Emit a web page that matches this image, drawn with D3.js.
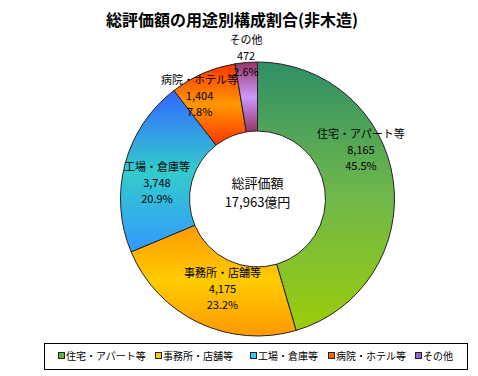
<!DOCTYPE html>
<html>
<head>
<meta charset="utf-8">
<script src="https://cdn.jsdelivr.net/npm/d3@7"></script>
<style>
  body { margin: 0; background: #fff; }
  text { font-family: "Noto Sans CJK JP", sans-serif; fill: #000; }
</style>
</head>
<body>
<script>
// data
const categories = ['住宅・アパート等', '事務所・店舗等', '工場・倉庫等', '病院・ホテル等', 'その他']
const values = [8165, 4175, 3748, 1404, 472]
const percents = ['45.5%', '23.2%', '20.9%', '7.8%', '2.6%']
const valueLabels = ['8,165', '4,175', '3,748', '1,404', '472']
const totalLabel = '17,963億円'

const title = '総評価額の用途別構成割合(非木造)'

// layout
const w = 478
const h = 376
const cx = 257.5
const cy = 199
const outerR = 137
const innerR = 68

// gradient stops per slice (top -> bottom)
const gradients = [
  ['#2f8f66', '#6fb84a', '#9ccc0a'],
  ['#ff9900', '#ffcc00', '#ff9900'],
  ['#3366ff', '#33cccc', '#3399ff'],
  ['#ff3300', '#ff9900', '#ff3300'],
  ['#993366', '#cc99ff', '#993366']
]
const legendColors = ['#5fb846', '#ffcc00', '#33ccff', '#ff6600', '#9966cc']

// manual nudges of the labels away from the ring centroid (excel placed them by hand)
const labelNudge = [[2, -34], [9, -2], [-1.5, 10.5], [-17, -9], [-3, -41]]

const svg = d3.select('body')
  .append('svg')
  .attr('width', w)
  .attr('height', h)

const defs = svg.append('defs')
gradients.forEach((g, i) => {
  const lg = defs.append('linearGradient')
    .attr('id', 'grad' + i)
    .attr('x1', 0).attr('y1', 0)
    .attr('x2', 0).attr('y2', 1)
  g.forEach((c, j) => {
    lg.append('stop')
      .attr('offset', j / (g.length - 1))
      .attr('stop-color', c)
  })
})

svg.append('text')
  .attr('x', 232)
  .attr('y', 26)
  .attr('text-anchor', 'middle')
  .style('font-size', '16px')
  .style('font-weight', 'bold')
  .text(title)

const pie = d3.pie().sort(null)
const arcs = pie(values)
const arc = d3.arc().innerRadius(innerR).outerRadius(outerR)

const g = svg.append('g').attr('transform', `translate(${cx},${cy})`)

g.selectAll('path.slice')
  .data(arcs)
  .enter()
  .append('path')
  .attr('class', 'slice')
  .attr('d', arc)
  .style('fill', (d, i) => `url(#grad${i})`)
  .style('stroke', '#222')
  .style('stroke-width', '1px')

// labels
g.selectAll('g.label')
  .data(arcs)
  .enter()
  .append('g')
  .attr('class', 'label')
  .attr('transform', (d, i) => {
    const c = arc.centroid(d)
    return `translate(${c[0] + labelNudge[i][0]},${c[1] + labelNudge[i][1]})`
  })
  .each(function(d, i) {
    const lines = [categories[i], valueLabels[i], percents[i]]
    lines.forEach((t, j) => {
      d3.select(this)
        .append('text')
        .attr('y', (j - 1) * 16)
        .attr('dy', '0.35em')
        .attr('text-anchor', 'middle')
        .style('font-size', '11px')
        .text(t)
    })
  })

// center text
g.append('text')
  .attr('y', -16)
  .attr('dy', '0.35em')
  .attr('text-anchor', 'middle')
  .style('font-size', '13px')
  .text('総評価額')
g.append('text')
  .attr('y', 3)
  .attr('dy', '0.35em')
  .attr('text-anchor', 'middle')
  .style('font-size', '13px')
  .text(totalLabel)

// legend
const legendX = [58, 155, 250, 328, 415]
const legend = svg.append('g')
legend.append('rect')
  .attr('x', 44.5)
  .attr('y', 343.5)
  .attr('width', 423)
  .attr('height', 26)
  .style('fill', '#fff')
  .style('stroke', '#000')
  .style('stroke-width', '1px')

legend.selectAll('g.item')
  .data(categories)
  .enter()
  .append('g')
  .attr('class', 'item')
  .attr('transform', (d, i) => `translate(${legendX[i]},356)`)
  .each(function(d, i) {
    d3.select(this)
      .append('rect')
      .attr('x', 0.5)
      .attr('y', -3.5)
      .attr('width', 6)
      .attr('height', 6)
      .style('fill', legendColors[i])
      .style('stroke', '#222')
      .style('stroke-width', '1px')
    d3.select(this)
      .append('text')
      .attr('x', 8)
      .attr('dy', '0.35em')
      .style('font-size', '10px')
      .text(d)
  })
</script>
</body>
</html>
